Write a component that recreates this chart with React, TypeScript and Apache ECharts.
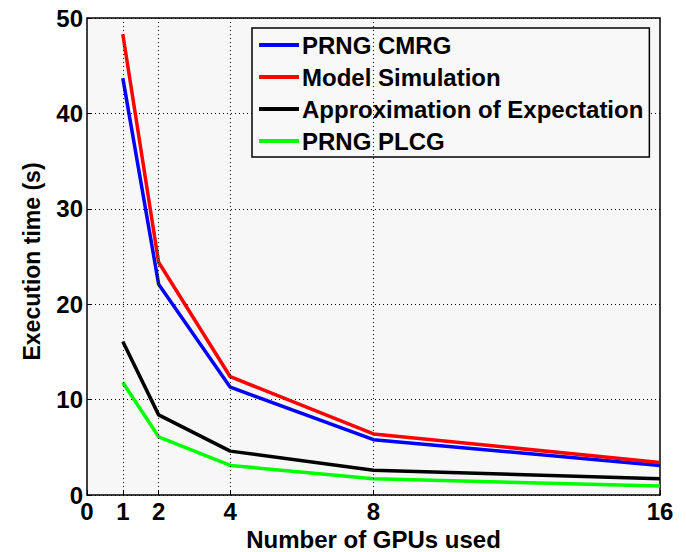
import React, { useEffect, useRef } from "react";
import * as echarts from "echarts";

const gpus = [1, 2, 4, 8, 16];
const xTickValues = [0, 1, 2, 4, 8, 16];
const xGridValues = [1, 2, 4, 8];
const cmrg = [43.7, 22.1, 11.3, 5.8, 3.1];
const modelSim = [48.3, 24.4, 12.4, 6.4, 3.4];
const approx = [16.1, 8.4, 4.6, 2.6, 1.7];
const plcg = [11.8, 6.1, 3.1, 1.7, 0.95];

const seriesNames = ["PRNG CMRG", "Model Simulation", "Approximation of Expectation", "PRNG PLCG"];
const seriesColors = ["#0000ff", "#ff0000", "#000000", "#00ff00"];
const seriesValues = [cmrg, modelSim, approx, plcg];

const FONT = "'Liberation Sans', Arial, sans-serif";

export default function App() {
  const ref = useRef<HTMLDivElement>(null);
  useEffect(() => {
    if (!ref.current) return;
    const chart = echarts.init(ref.current, null, { renderer: "svg" });
    const series: any[] = seriesNames.map((name, i) => ({
      name,
      type: "line",
      data: gpus.map((g, j) => [g, seriesValues[i][j]]),
      symbol: "none",
      lineStyle: { color: seriesColors[i], width: 3.5 },
      itemStyle: { color: seriesColors[i] },
      z: 3,
    }));
    series.push({
      name: "__grid",
      type: "line",
      data: [],
      silent: true,
      z: 1,
      markLine: {
        silent: true,
        symbol: "none",
        label: { show: false },
        lineStyle: { color: "#000", width: 1, type: [1, 3] },
        data: xGridValues.map((v) => ({ xAxis: v })),
      },
    });
    chart.setOption({
      animation: false,
      textStyle: { fontFamily: FONT },
      grid: {
        left: 87,
        top: 18,
        right: 26,
        bottom: 57,
        outerBoundsMode: "none",
        containLabel: false,
        show: true,
        backgroundColor: "#f7f7f7",
        borderColor: "#000",
        borderWidth: 1.5,
      },
      legend: {
        data: seriesNames,
        orient: "vertical",
        left: 252,
        top: 28,
        icon: "rect",
        itemWidth: 40,
        itemHeight: 4,
        itemGap: 8,
        padding: [5, 6, 4, 7],
        backgroundColor: "#f8f8f8",
        borderColor: "#000",
        borderWidth: 1.5,
        textStyle: {
          fontFamily: FONT,
          fontWeight: "bold",
          fontSize: 24,
          color: "#000",
          lineHeight: 24,
          padding: [0, 0, 0, -2],
        },
      },
      xAxis: {
        type: "value",
        min: 0,
        max: 16,
        name: "Number of GPUs used",
        nameLocation: "middle",
        nameGap: 24,
        nameTextStyle: { fontFamily: FONT, fontWeight: "bold", fontSize: 24, color: "#000", lineHeight: 24 },
        axisLine: { show: false },
        axisTick: { show: true, inside: true, length: 5, customValues: xTickValues, lineStyle: { color: "#000" } },
        axisLabel: {
          customValues: xTickValues,
          fontFamily: FONT,
          fontWeight: "bold",
          fontSize: 24,
          color: "#000",
          margin: 4,
        },
        splitLine: { show: false },
      },
      yAxis: {
        type: "value",
        min: 0,
        max: 50,
        interval: 10,
        name: "Execution time (s)",
        nameLocation: "middle",
        nameGap: 44,
        nameTextStyle: {
          fontFamily: FONT,
          fontWeight: "bold",
          fontSize: 23,
          color: "#000",
          padding: [0, 10, 0, 0],
        },
        axisLine: { show: false },
        axisTick: { show: true, inside: true, length: 5, lineStyle: { color: "#000" } },
        axisLabel: { fontFamily: FONT, fontWeight: "bold", fontSize: 24, color: "#000", margin: 4 },
        splitLine: { show: true, lineStyle: { color: "#000", width: 1, type: [1, 3] } },
      },
      series,
    });
    return () => chart.dispose();
  }, []);
  return <div ref={ref} style={{ width: 686, height: 552, position: "absolute", left: 0, top: 0, background: "#fff" }} />;
}
